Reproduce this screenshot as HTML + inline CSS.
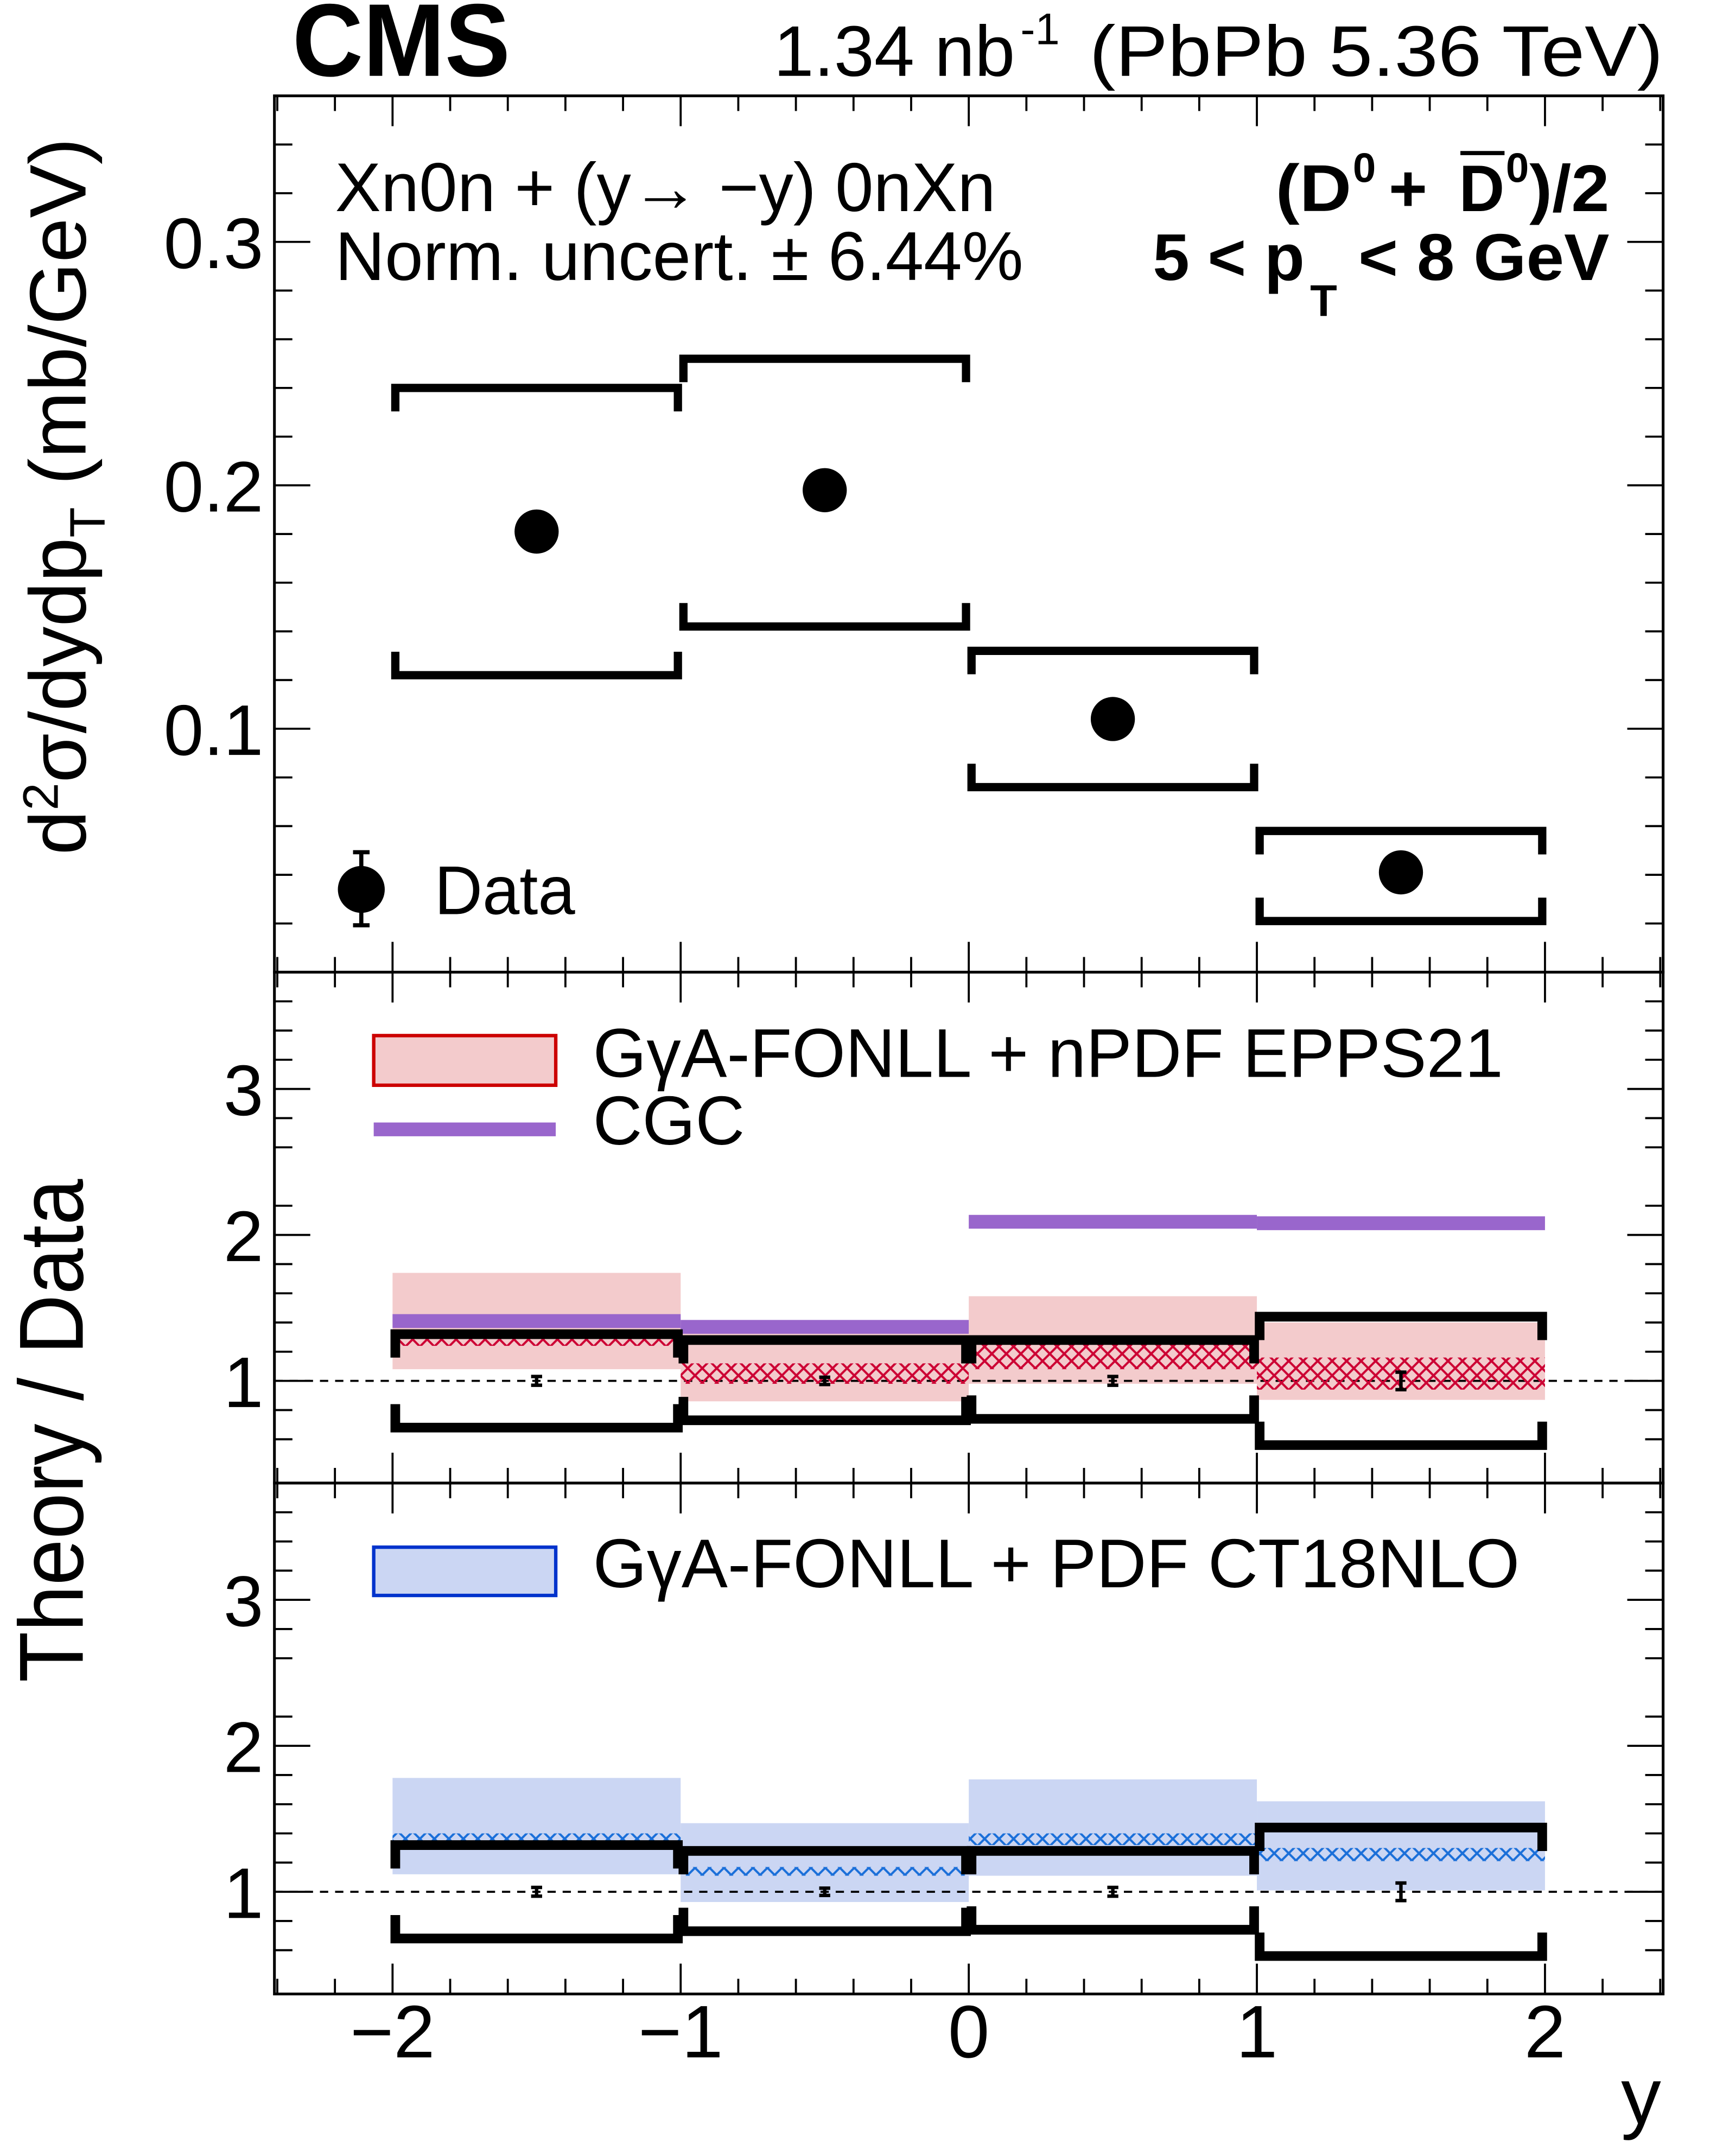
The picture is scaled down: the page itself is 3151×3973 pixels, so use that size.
<!DOCTYPE html>
<html><head><meta charset="utf-8">
<style>
html,body{margin:0;padding:0;background:#fff;}
svg{display:block;}
text{font-family:"Liberation Sans",sans-serif;fill:#000;}
</style></head>
<body>
<svg id="chart" xmlns="http://www.w3.org/2000/svg" width="3151" height="3973" viewBox="0 0 1240 1563.5" preserveAspectRatio="none">
<defs>
<pattern id="hatchRed" patternUnits="userSpaceOnUse" width="10.5" height="10.5">
<path d="M0,0 L10.5,10.5 M10.5,0 L0,10.5" stroke="#cc0033" stroke-width="1.6"/>
</pattern>
<pattern id="hatchBlue" patternUnits="userSpaceOnUse" width="10.5" height="10.5">
<path d="M0,0 L10.5,10.5 M10.5,0 L0,10.5" stroke="#1a6fd9" stroke-width="1.6"/>
</pattern>
</defs>
</svg>
<script>
// ---- data ----
const binLo = [-2, -1, 0, 1];
const binHi = [-1, 0, 1, 2];
const binCenter = [-1.5, -0.5, 0.5, 1.5];
const dataVal = [0.181, 0.198, 0.104, 0.041];
const systHi = [0.240, 0.252, 0.132, 0.058];
const systLo = [0.122, 0.142, 0.076, 0.021];
const ratioSystHi = [1.32, 1.28, 1.28, 1.44];
const ratioSystLo = [0.68, 0.73, 0.74, 0.56];
const ratioStat = [0.03, 0.025, 0.03, 0.06];
const eppsBandHi = [1.74, 1.38, 1.58, 1.40];
const eppsBandLo = [1.08, 0.86, 0.98, 0.87];
const eppsHatchHi = [1.31, 1.12, 1.25, 1.16];
const eppsHatchLo = [1.24, 0.98, 1.08, 0.94];
const cgcVal = [1.41, 1.37, 2.09, 2.08];
const ctBandHi = [1.78, 1.47, 1.77, 1.62];
const ctBandLo = [1.12, 0.93, 1.11, 1.01];
const ctHatchHi = [1.40, 1.17, 1.40, 1.30];
const ctHatchLo = [1.35, 1.11, 1.32, 1.21];
const xTicks = [-2, -1, 0, 1, 2];
const xTickLabels = ["\u22122", "\u22121", "0", "1", "2"];
const topYTicks = [0.1, 0.2, 0.3];
const topYTickLabels = ["0.1", "0.2", "0.3"];
const ratioYTicks = [1, 2, 3];
const ratioYTickLabels = ["1", "2", "3"];

const NS = "http://www.w3.org/2000/svg";
const svg = document.getElementById("chart");
function mk(tag, attrs, parent) {
  const e = document.createElementNS(NS, tag);
  for (const k in attrs) e.setAttribute(k, attrs[k]);
  (parent || svg).appendChild(e);
  return e;
}
const X0 = 199, X1 = 1206;
const xMin = -2.41, xMax = 2.41;
const sx = v => X0 + (v - xMin) / (xMax - xMin) * (X1 - X0);
const panels = {
  top: {y0: 69.5, y1: 705, min: 0, max: 0.36},
  mid: {y0: 705, y1: 1075.5, min: 0.3, max: 3.8},
  low: {y0: 1075.5, y1: 1446, min: 0.3, max: 3.8}
};
function syF(p) { return v => p.y1 - (v - p.min) / (p.max - p.min) * (p.y1 - p.y0); }
const syTop = syF(panels.top), syMid = syF(panels.mid), syLow = syF(panels.low);

function txt(s, x, y, size, opts, name) {
  const t = mk("text", Object.assign({x: x, y: y, "font-size": size}, opts || {}));
  t.textContent = s;
  
  
  return t;
}

// ---- frames & ticks ----
function drawFrame(key, sy, majors, minorStep, labels, namePrefix) {
  const p = panels[key];
  const g = mk("g", {});
  
  
  const r = mk("rect", {x: X0, y: p.y0, width: X1 - X0, height: p.y1 - p.y0, fill: "none", stroke: "#000", "stroke-width": 2}, g);
  
  
  // x ticks
  for (let i = -12; i <= 12; i++) {
    const v = i * 0.2;
    const maj = Math.abs(v - Math.round(v)) < 1e-6;
    const L = maj ? 22 : 11;
    const x = sx(v);
    const t1 = mk("line", {x1: x, x2: x, y1: p.y1, y2: p.y1 - L, stroke: "#000", "stroke-width": 1.5}, g);
    
    
    const t2 = mk("line", {x1: x, x2: x, y1: p.y0, y2: p.y0 + L, stroke: "#000", "stroke-width": 1.5}, g);
    
    
  }
  // y ticks
  for (let v = p.min; v <= p.max + 1e-9; v += minorStep) {
    const vv = Math.round(v / minorStep) * minorStep;
    if (vv < p.min - 1e-9 || vv > p.max + 1e-9) continue;
    const maj = majors.some(m => Math.abs(m - vv) < 1e-6);
    const L = maj ? 26 : 13;
    const y = sy(vv);
    const t1 = mk("line", {x1: X0, x2: X0 + L, y1: y, y2: y, stroke: "#000", "stroke-width": 1.5}, g);
    
    
    const t2 = mk("line", {x1: X1, x2: X1 - L, y1: y, y2: y, stroke: "#000", "stroke-width": 1.5}, g);
    
    
  }
  majors.forEach((m, i) => {
    txt(labels[i], 191, sy(m) + 19, 52, {"text-anchor": "end"}, namePrefix + '-y-tick-label');
  });
}

// ---- top panel content ----
function bracket(xa, xb, y, dir, w, tick, name, sy) {
  const d = `M${xa + 2},${y + dir * tick} L${xa + 2},${y} L${xb - 2},${y} L${xb - 2},${y + dir * tick}`;
  const e = mk("path", {d: d, fill: "none", stroke: "#000", "stroke-width": w, "stroke-linejoin": "miter"});
  
  
}
dataVal.forEach((v, i) => {
  bracket(sx(binLo[i]), sx(binHi[i]), syTop(systHi[i]), 1, 6, 17, 'syst-upper-bin' + (i + 1));
  bracket(sx(binLo[i]), sx(binHi[i]), syTop(systLo[i]), -1, 6, 17, 'syst-lower-bin' + (i + 1));
  const c = mk("circle", {cx: sx(binCenter[i]), cy: syTop(v), r: 16, fill: "#000"});
  
  
});

// ---- ratio panels ----
function ratioPanel(sy, bandHi, bandLo, hatchHi, hatchLo, fill, hatch, withCgc, pfx) {
  binLo.forEach((lo, i) => {
    const xa = sx(lo), xb = sx(binHi[i]);
    const b = mk("rect", {x: xa, y: sy(bandHi[i]), width: xb - xa, height: sy(bandLo[i]) - sy(bandHi[i]), fill: fill});
    
    
  });
  const dash = mk("line", {x1: X0, x2: X1, y1: sy(1), y2: sy(1), stroke: "#000", "stroke-width": 1.5, "stroke-dasharray": "6,5"});
  
  
  binLo.forEach((lo, i) => {
    const xa = sx(lo), xb = sx(binHi[i]);
    const h = mk("rect", {x: xa, y: sy(hatchHi[i]), width: xb - xa, height: sy(hatchLo[i]) - sy(hatchHi[i]), fill: hatch});
    
    
  });
  if (withCgc) {
    binLo.forEach((lo, i) => {
      const l = mk("line", {x1: sx(lo), x2: sx(binHi[i]), y1: sy(cgcVal[i]), y2: sy(cgcVal[i]), stroke: "#9966cc", "stroke-width": 10});
      
      
    });
  }
  binLo.forEach((lo, i) => {
    const xa = sx(lo), xb = sx(binHi[i]);
    bracket(xa, xb, sy(ratioSystHi[i]), 1, 7, 17, pfx + '-syst-upper-bin' + (i + 1));
    bracket(xa, xb, sy(ratioSystLo[i]), -1, 7, 17, pfx + '-syst-lower-bin' + (i + 1));
    const xc = sx(binCenter[i]);
    const e = mk("path", {d: `M${xc},${sy(1 + ratioStat[i])} L${xc},${sy(1 - ratioStat[i])} M${xc - 4},${sy(1 + ratioStat[i])} L${xc + 4},${sy(1 + ratioStat[i])} M${xc - 4},${sy(1 - ratioStat[i])} L${xc + 4},${sy(1 - ratioStat[i])}`, stroke: "#000", "stroke-width": 2.5, fill: "none"});
    
    
  });
}
ratioPanel(syMid, eppsBandHi, eppsBandLo, eppsHatchHi, eppsHatchLo, "#f3cbcc", "url(#hatchRed)", true, 'epps21');
ratioPanel(syLow, ctBandHi, ctBandLo, ctHatchHi, ctHatchLo, "#cbd6f3", "url(#hatchBlue)", false, 'ct18');

drawFrame('top', syTop, topYTicks, 0.02, topYTickLabels, 'top-panel');
drawFrame('mid', syMid, ratioYTicks, 0.2, ratioYTickLabels, 'mid-panel');
drawFrame('low', syLow, ratioYTicks, 0.2, ratioYTickLabels, 'low-panel');

// x tick labels
xTicks.forEach((v, i) => {
  txt(xTickLabels[i], sx(v), 1492, 54, {"text-anchor": "middle"}, 'x-tick-label');
});
txt("y", 1190, 1540, 58, {"text-anchor": "middle"}, 'x-axis-title');

// ---- texts ----
txt("CMS", 212, 55, 75, {"font-weight": "bold", textLength: 158, lengthAdjust: "spacingAndGlyphs"}, 'cms-label');
txt("1.34 nb", 561, 55, 52, {textLength: 175, lengthAdjust: "spacingAndGlyphs"}, 'luminosity-label');
txt("-1", 740, 32, 32, {}, 'luminosity-exponent');
txt("(PbPb 5.36 TeV)", 790, 55, 52, {textLength: 416, lengthAdjust: "spacingAndGlyphs"}, 'energy-label');
txt("Xn0n + (y\u2192 \u2212y) 0nXn", 243, 153, 50, {textLength: 479, lengthAdjust: "spacingAndGlyphs"}, 'selection-label');
txt("Norm. uncert. \u00b1 6.44%", 243, 203, 50, {textLength: 499, lengthAdjust: "spacingAndGlyphs"}, 'norm-uncert-label');

// (D0 + D0bar)/2
txt("(D", 925, 153, 48, {"font-weight": "bold", textLength: 55, lengthAdjust: "spacingAndGlyphs"}, 'particle-label-part1');
txt("0", 981, 132, 30, {"font-weight": "bold"}, 'particle-superscript');
txt("+", 1007, 153, 48, {"font-weight": "bold"}, 'particle-plus');
txt("D", 1058, 153, 48, {"font-weight": "bold", textLength: 33, lengthAdjust: "spacingAndGlyphs"}, 'particle-dbar');
const ob = mk("line", {x1: 1059, x2: 1091, y1: 111, y2: 111, stroke: "#000", "stroke-width": 3});


txt("0", 1092, 132, 30, {"font-weight": "bold"}, 'particle-superscript-bar');
txt(")/2", 1109, 153, 48, {"font-weight": "bold", textLength: 58, lengthAdjust: "spacingAndGlyphs"}, 'particle-label-part2');
txt("5 < p", 836, 203, 48, {"font-weight": "bold", textLength: 110, lengthAdjust: "spacingAndGlyphs"}, 'pt-range-part1');
txt("T", 950, 229, 32, {"font-weight": "bold"}, 'pt-subscript');
txt("< 8 GeV", 985, 203, 48, {"font-weight": "bold", textLength: 182, lengthAdjust: "spacingAndGlyphs"}, 'pt-range-part2');

// Data legend
const lg = mk("path", {d: "M262,618 L262,671 M256,618 L268,618 M256,671 L268,671", stroke: "#000", "stroke-width": 3, fill: "none"});


const lc = mk("circle", {cx: 262, cy: 645, r: 17, fill: "#000"});


txt("Data", 315, 663, 50, {textLength: 102, lengthAdjust: "spacingAndGlyphs"}, 'legend-data-label');

// EPPS21 legend
const le = mk("rect", {x: 271, y: 751, width: 132, height: 36, fill: "#f3cbcc", stroke: "#cc0000", "stroke-width": 2.5});


txt("G\u03b3A-FONLL + nPDF EPPS21", 430, 781, 50, {textLength: 660, lengthAdjust: "spacingAndGlyphs"}, 'legend-epps21-label');
const lcg = mk("line", {x1: 271, x2: 403, y1: 819, y2: 819, stroke: "#9966cc", "stroke-width": 10});


txt("CGC", 430, 830, 50, {textLength: 110, lengthAdjust: "spacingAndGlyphs"}, 'legend-cgc-label');

// CT18 legend
const lb = mk("rect", {x: 271, y: 1122, width: 132, height: 35, fill: "#cbd6f3", stroke: "#0033cc", "stroke-width": 2.5});


txt("G\u03b3A-FONLL + PDF CT18NLO", 430, 1151, 50, {textLength: 672, lengthAdjust: "spacingAndGlyphs"}, 'legend-ct18-label');

// y axis titles
const yt = mk("text", {x: 0, y: 0, "font-size": 58, transform: "translate(62,620) rotate(-90)", textLength: 520, lengthAdjust: "spacingAndGlyphs"});


yt.innerHTML = 'd<tspan dy="-20" font-size="36">2</tspan><tspan dy="20">\u03c3/dydp</tspan><tspan dy="14" font-size="36">T</tspan><tspan dy="-14"> (mb/GeV)</tspan>';
const rt = mk("text", {x: 0, y: 0, "font-size": 66, transform: "translate(60,1220) rotate(-90)", textLength: 365, lengthAdjust: "spacingAndGlyphs"});


rt.textContent = "Theory / Data";
</script>
</body></html>
